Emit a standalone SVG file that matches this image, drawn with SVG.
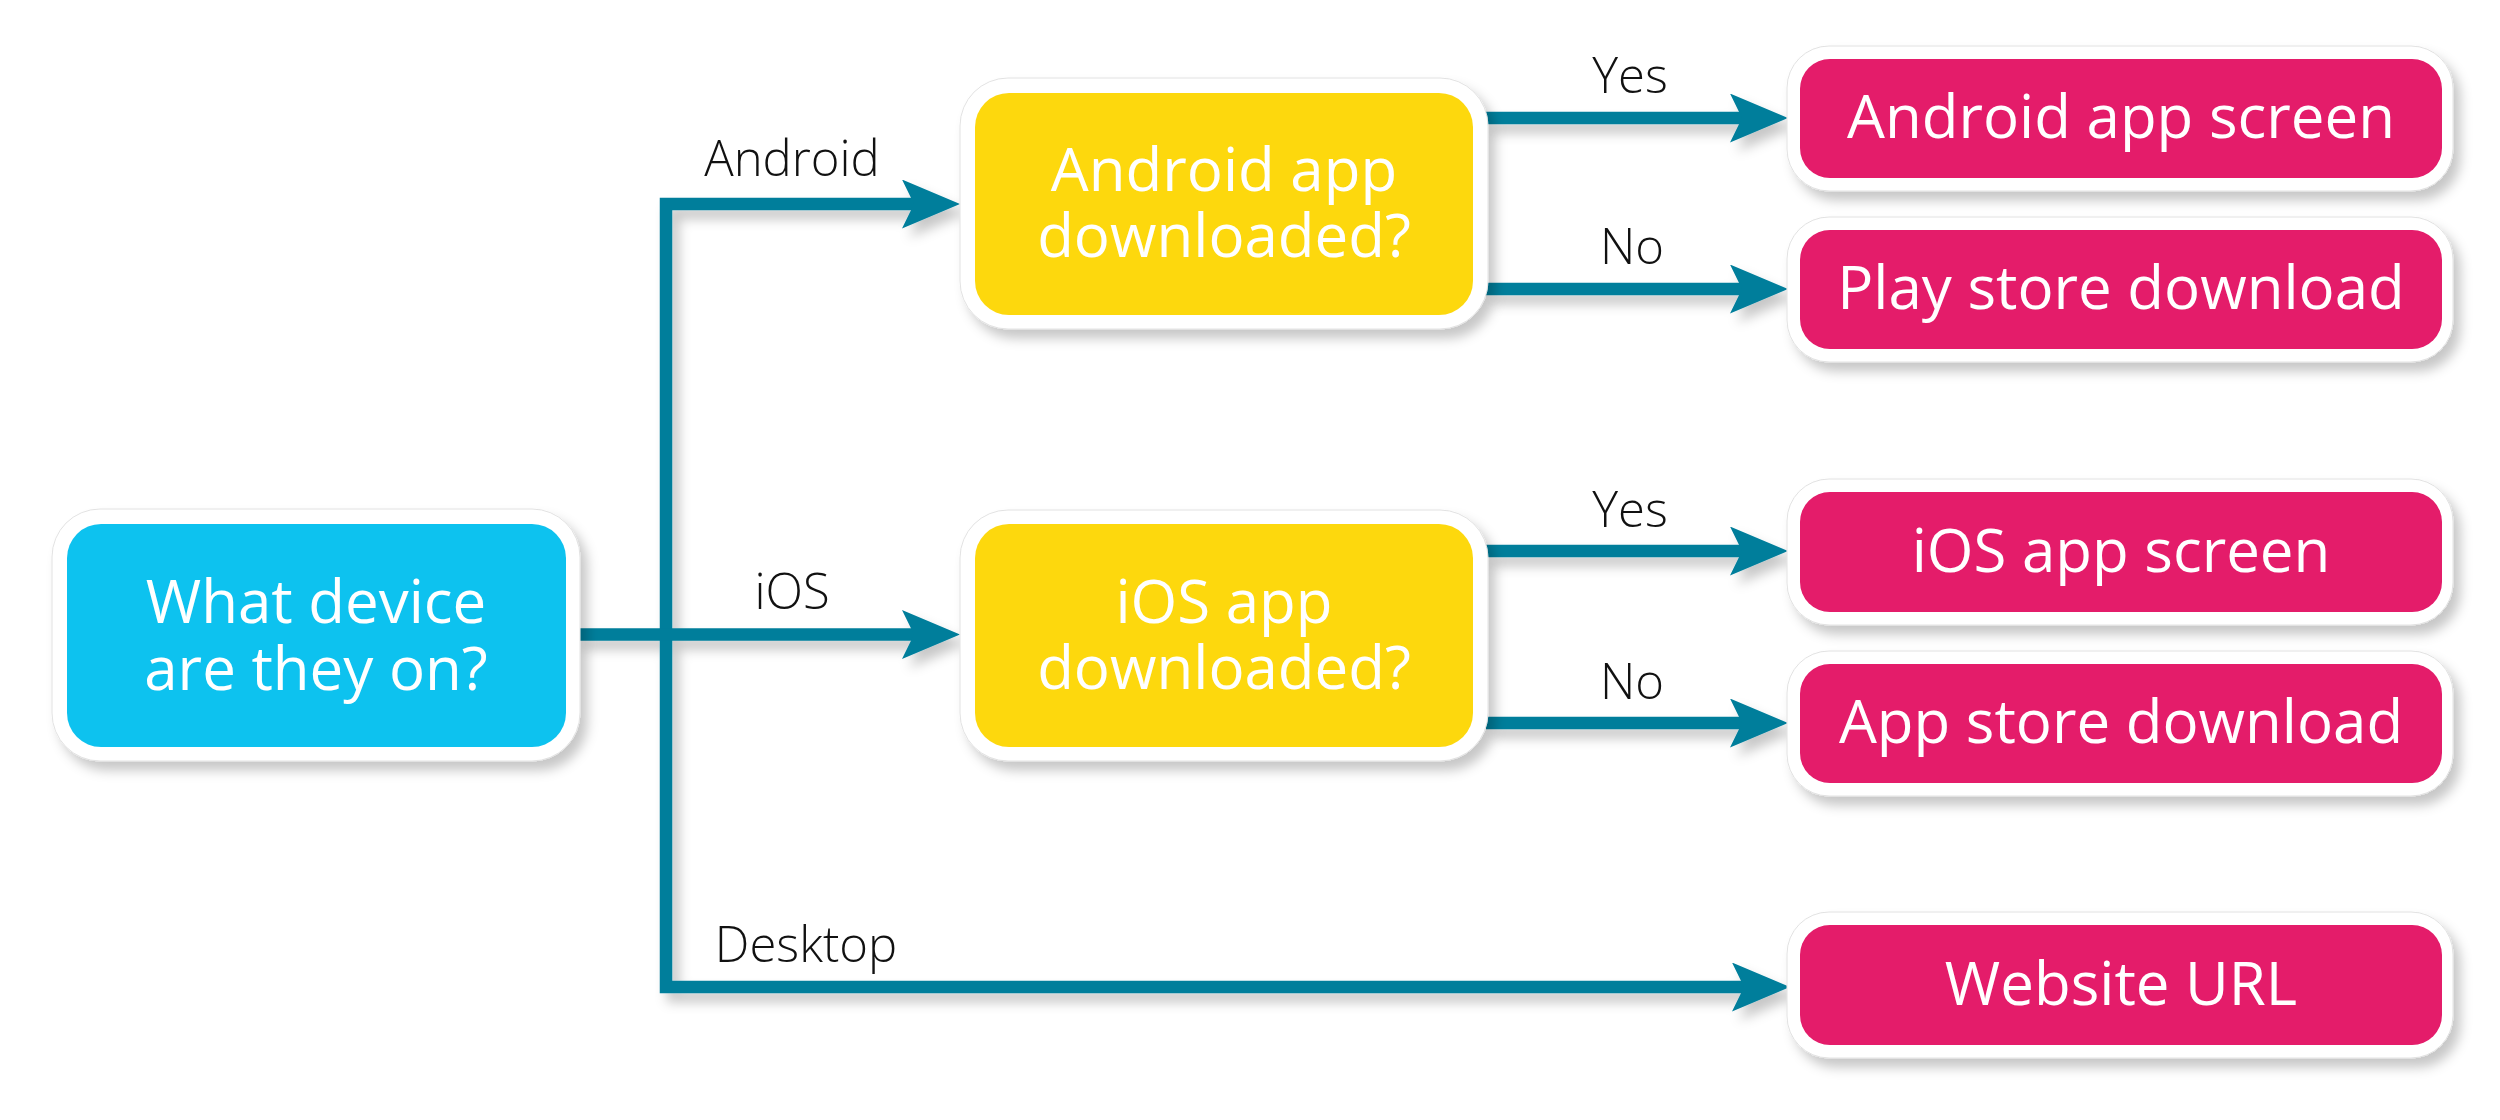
<svg xmlns="http://www.w3.org/2000/svg" width="2500" height="1120" viewBox="0 0 2500 1120">
  <defs>
    <filter id="sh" x="-10%" y="-20%" width="130%" height="160%">
      <feDropShadow dx="7" dy="9" stdDeviation="6" flood-color="#000" flood-opacity="0.22"/>
    </filter>
    <marker id="arr" markerUnits="userSpaceOnUse" markerWidth="60" markerHeight="50" viewBox="0 0 60 50" refX="14" refY="24.5" orient="auto-start-reverse">
      <path d="M0,0 L58,24.5 L0,49 L12,24.5 Z" fill="#027E9B"/>
    </marker>
  </defs>
  <style>
    .outer { fill: #ffffff; stroke: #e2e2e2; stroke-width: 1; }
    .blue { fill: #10C2EF; }
    .yellow { fill: #FDD80F; }
    .pink { fill: #E41A6A; }
    .btxt { font-family: "Open Sans", "Noto Sans", "Liberation Sans", sans-serif; font-size: 60px; fill: #ffffff; text-anchor: middle; }
    .lbl { font-family: "Open Sans", "Noto Sans", "Liberation Sans", sans-serif; font-weight: 300; font-size: 49px; fill: #111111; text-anchor: middle; }
    .conn { fill: none; stroke: #027E9B; stroke-width: 12.5; stroke-linejoin: miter; stroke-linecap: butt; }
  </style>

  <rect width="2500" height="1120" fill="#ffffff"/>

  <g id="connectors" filter="url(#sh)">
    <path class="conn" d="M916,204 H666 V987 H1746" marker-start="url(#arr)" marker-end="url(#arr)"/>
    <path class="conn" d="M578,634.5 H916" marker-end="url(#arr)"/>
    <path class="conn" d="M1486,118 H1744" marker-end="url(#arr)"/>
    <path class="conn" d="M1486,289 H1744" marker-end="url(#arr)"/>
    <path class="conn" d="M1486,551 H1744" marker-end="url(#arr)"/>
    <path class="conn" d="M1486,723 H1744" marker-end="url(#arr)"/>
  </g>

  <g id="labels">
    <text class="lbl" x="792" y="176">Android</text>
    <text class="lbl" x="792" y="609">iOS</text>
    <text class="lbl" x="806" y="962">Desktop</text>
    <text class="lbl" x="1630" y="93">Yes</text>
    <text class="lbl" x="1632" y="264">No</text>
    <text class="lbl" x="1630" y="527">Yes</text>
    <text class="lbl" x="1632" y="699">No</text>
  </g>

  <g id="node-device" filter="url(#sh)">
    <rect class="outer" x="52" y="509" width="528" height="252" rx="48"/>
    <rect class="blue" x="67" y="524" width="499" height="223" rx="34"/>
    <text class="btxt" x="316" y="623">What device<tspan x="316" dy="67">are they on?</tspan></text>
  </g>

  <g id="node-android-q" filter="url(#sh)">
    <rect class="outer" x="960" y="78" width="528" height="251" rx="48"/>
    <rect class="yellow" x="975" y="93" width="498" height="222" rx="34"/>
    <text class="btxt" x="1224" y="191">Android app<tspan x="1224" dy="66">downloaded?</tspan></text>
  </g>

  <g id="node-ios-q" filter="url(#sh)">
    <rect class="outer" x="960" y="510" width="528" height="251" rx="48"/>
    <rect class="yellow" x="975" y="524" width="498" height="223" rx="34"/>
    <text class="btxt" x="1224" y="623">iOS app<tspan x="1224" dy="66">downloaded?</tspan></text>
  </g>

  <g id="node-android-screen" filter="url(#sh)">
    <rect class="outer" x="1787" y="46" width="666" height="145" rx="42"/>
    <rect class="pink" x="1800" y="59" width="642" height="119" rx="30"/>
    <text class="btxt" x="2121" y="138">Android app screen</text>
  </g>

  <g id="node-play-store" filter="url(#sh)">
    <rect class="outer" x="1787" y="217" width="666" height="145" rx="42"/>
    <rect class="pink" x="1800" y="230" width="642" height="119" rx="30"/>
    <text class="btxt" x="2121" y="309">Play store download</text>
  </g>

  <g id="node-ios-screen" filter="url(#sh)">
    <rect class="outer" x="1787" y="479" width="666" height="146" rx="42"/>
    <rect class="pink" x="1800" y="492" width="642" height="120" rx="30"/>
    <text class="btxt" x="2121" y="572">iOS app screen</text>
  </g>

  <g id="node-app-store" filter="url(#sh)">
    <rect class="outer" x="1787" y="651" width="666" height="145" rx="42"/>
    <rect class="pink" x="1800" y="664" width="642" height="119" rx="30"/>
    <text class="btxt" x="2121" y="743">App store download</text>
  </g>

  <g id="node-website" filter="url(#sh)">
    <rect class="outer" x="1787" y="912" width="666" height="146" rx="42"/>
    <rect class="pink" x="1800" y="925" width="642" height="120" rx="30"/>
    <text class="btxt" x="2121" y="1005">Website URL</text>
  </g>
</svg>
